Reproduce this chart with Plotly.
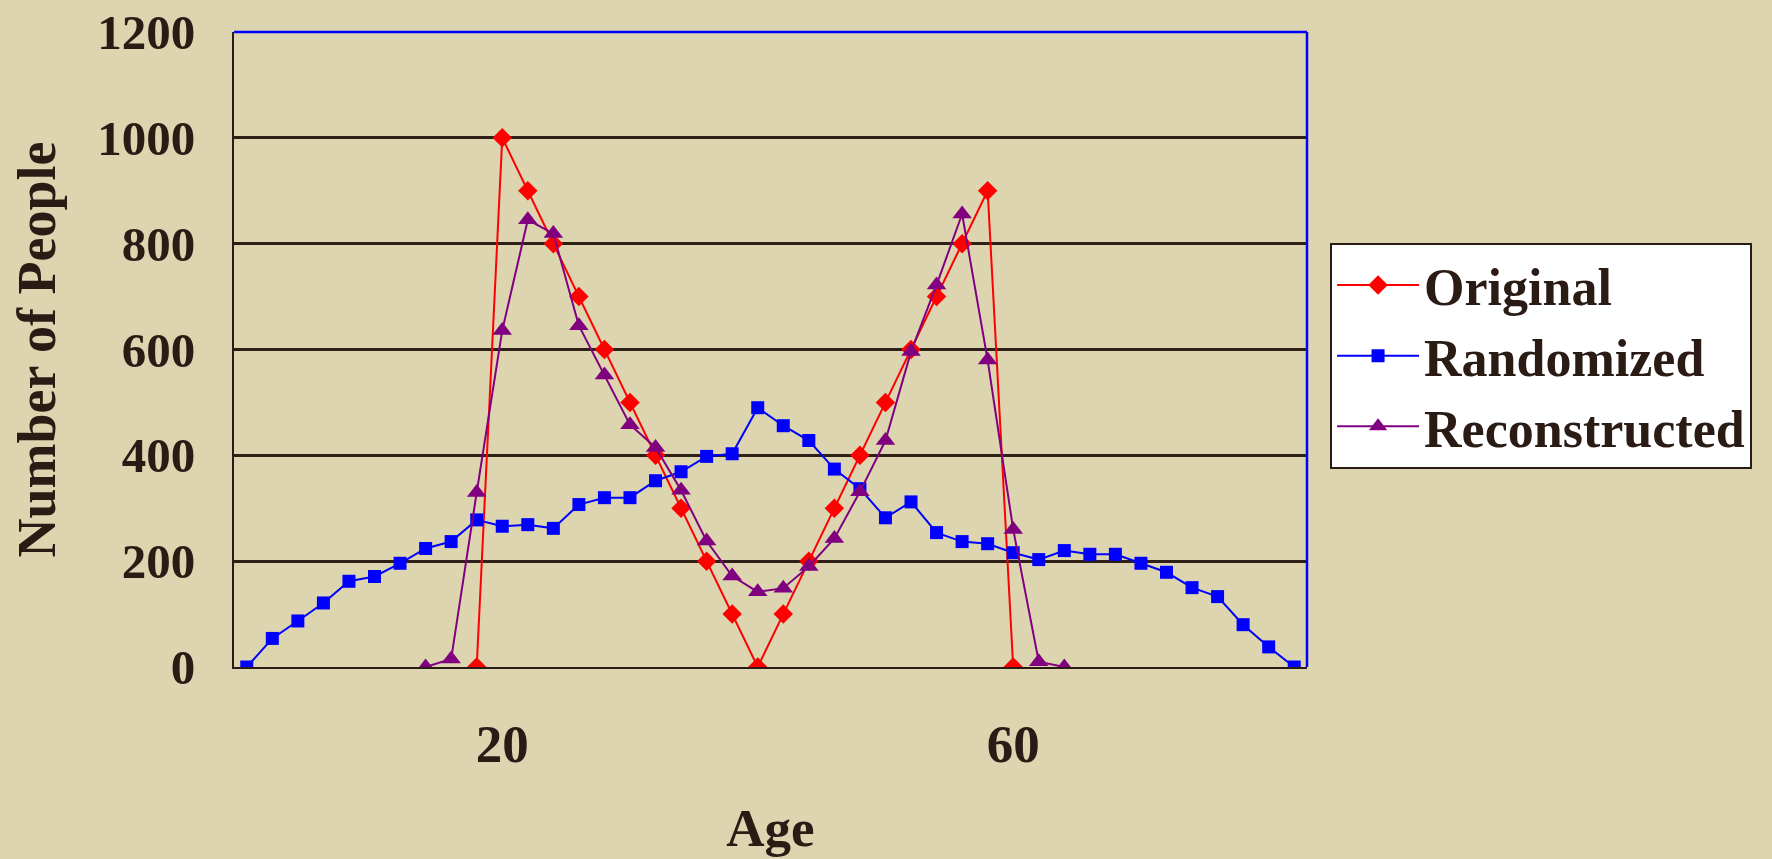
import plotly.graph_objects as go

ages = list(range(0, 84, 2))  # 42 age groups

original = [None]*9 + [0, 1000, 900, 800, 700, 600, 500, 400, 300, 200, 100, 0,
                       100, 200, 300, 400, 500, 600, 700, 800, 900, 0] + [None]*11

randomized = [0, 54, 87, 121, 162, 171, 196, 224, 237, 278, 266, 269, 262, 307,
              320, 320, 352, 369, 398, 403, 490, 456, 428, 374, 337, 282, 312,
              254, 237, 233, 216, 203, 220, 213, 213, 196, 179, 150, 133, 80, 38, 0]

reconstructed = [None]*7 + [0, 15, 330, 636, 845, 819, 645, 552, 458, 415, 334,
                            238, 172, 142, 149, 190, 243, 331, 428, 596, 722, 856,
                            580, 260, 10, 0] + [None]*9

x_ticks = [20, 60]
y_ticks = [0, 200, 400, 600, 800, 1000, 1200]

TXT = "#2B1B15"
BG = "#DDD5B0"
FONT = "Liberation Serif"

fig = go.Figure()
fig.add_trace(go.Scatter(x=ages, y=original, name="Original", mode="lines+markers",
                         line=dict(color="#FF0000", width=2),
                         marker=dict(symbol="diamond", size=15, color="#FF0000")))
fig.add_trace(go.Scatter(x=ages, y=randomized, name="Randomized", mode="lines+markers",
                         line=dict(color="#0000FF", width=2),
                         marker=dict(symbol="square", size=13, color="#0000FF")))
fig.add_trace(go.Scatter(x=ages, y=reconstructed, name="Reconstructed", mode="lines+markers",
                         line=dict(color="#800080", width=2),
                         marker=dict(symbol="triangle-up", size=17, color="#800080")))

fig.update_layout(
    width=1772, height=859, autosize=False,
    paper_bgcolor=BG, plot_bgcolor=BG,
    margin=dict(l=234, r=465, t=32, b=192),
    font=dict(family=FONT, color=TXT),
    showlegend=True,
    legend=dict(x=1.0215, xanchor="left", y=0.668, yanchor="top",
                bgcolor="white", bordercolor=TXT, borderwidth=2,
                font=dict(family=FONT, size=52, color=TXT, weight="bold"),
                itemwidth=82, tracegroupgap=0),
    xaxis=dict(range=[-1, 83], tickvals=x_ticks, ticktext=[str(v) for v in x_ticks],
               showgrid=False, zeroline=False, showline=True, linecolor=TXT, linewidth=2,
               ticks="", ticklabelstandoff=29, automargin=False,
               tickfont=dict(family=FONT, size=53, color=TXT, weight="bold"),
               title=dict(text="Age", standoff=37,
                          font=dict(family=FONT, size=53, color=TXT, weight="bold"))),
    yaxis=dict(range=[0, 1200], tickvals=y_ticks, showgrid=True, gridcolor="#2E1F17",
               gridwidth=2.5, zeroline=False, showline=True, linecolor=TXT, linewidth=2,
               ticks="", ticklabelstandoff=27, automargin=False,
               tickfont=dict(family=FONT, size=49, color=TXT, weight="bold"),
               title=dict(text="Number of People", standoff=24,
                          font=dict(family=FONT, size=54, color=TXT, weight="bold"))),
    shapes=[
        dict(type="line", xref="paper", yref="paper", x0=0, x1=1, y0=1, y1=1,
             line=dict(color="#0000FF", width=2.5)),
        dict(type="line", xref="paper", yref="paper", x0=1, x1=1, y0=0, y1=1,
             line=dict(color="#0000FF", width=2.5)),
    ],
)

fig.write_html("out.html", config={"displayModeBar": False},
               post_script="document.body.style.margin='0';document.body.style.overflow='hidden';")
